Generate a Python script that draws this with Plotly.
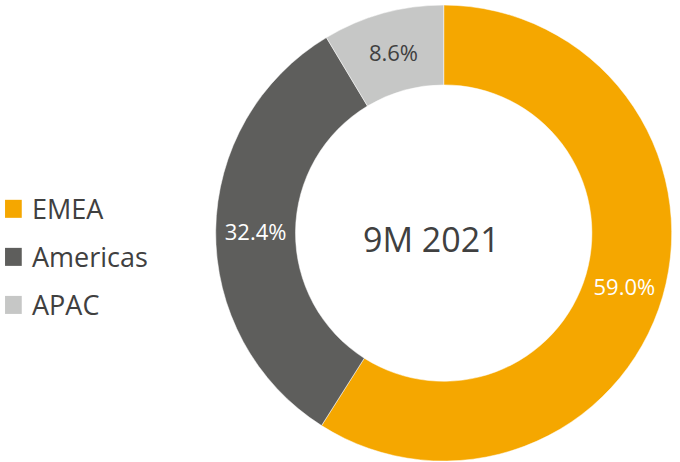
import plotly.graph_objects as go

regions = ["EMEA", "Americas", "APAC"]
shares = [59.0, 32.4, 8.6]
colors = ["#F5A700", "#5E5E5C", "#C6C7C6"]
label_colors = ["white", "white", "#404040"]
center_label = "9M 2021"

FONT = "Open Sans, Noto Sans, sans-serif"

fig = go.Figure()
fig.add_trace(go.Pie(
    labels=regions,
    values=shares,
    hole=0.65,
    sort=False,
    direction="clockwise",
    rotation=0,
    marker=dict(colors=colors, line=dict(color="white", width=0.5)),
    texttemplate="%{value:.1f}%",
    textposition="inside",
    insidetextorientation="horizontal",
    textfont=dict(family=FONT, size=22, color=label_colors),
    showlegend=False,
    domain=dict(x=[0.317, 0.988], y=[0.002, 0.989]),
))

# centre text (sits a little left of the donut centre in the original)
fig.add_annotation(text=center_label, x=0.635, y=0.483, xref="paper", yref="paper",
                   showarrow=False, font=dict(family=FONT, size=34, color="#404040"))

# hand-made legend so the spacing matches
for i, (name, col) in enumerate(zip(regions, colors)):
    yc = 0.548 - i * 0.104
    fig.add_shape(type="rect", xref="paper", yref="paper",
                  x0=0.0074, x1=0.032, y0=yc - 0.0195, y1=yc + 0.0195,
                  fillcolor=col, line_width=0)
    fig.add_annotation(text=name, x=0.044, y=yc, xref="paper", yref="paper",
                       xanchor="left", yanchor="middle", showarrow=False,
                       font=dict(family=FONT, size=27, color="#404040"))

fig.update_layout(
    width=680, height=462,
    margin=dict(l=0, r=0, t=0, b=0),
    paper_bgcolor="white",
    plot_bgcolor="white",
)

fig.write_html("out.html", config={"displayModeBar": False},
               post_script="document.body.style.margin='0';")
